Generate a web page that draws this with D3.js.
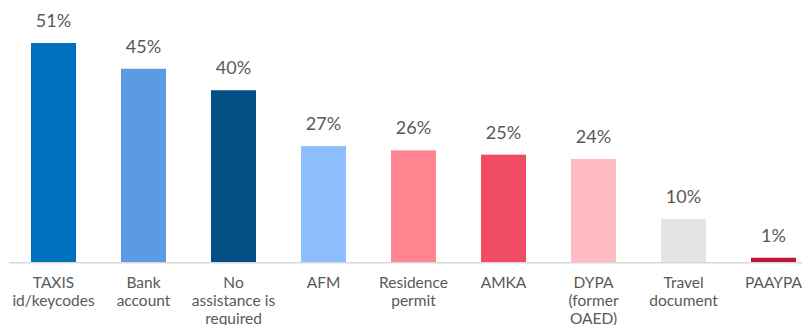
<!DOCTYPE html>
<html>
<head>
<meta charset="utf-8">
<script src="https://cdn.jsdelivr.net/npm/d3@7"></script>
<style>
  body { margin: 0; background: #fff; }
  svg { display: block; font-family: Lato, "Open Sans", sans-serif; }
</style>
</head>
<body>
<svg id="chart" width="802" height="325"></svg>
<script>
var categories = ['TAXIS id/keycodes', 'Bank account', 'No assistance is required', 'AFM',
  'Residence permit', 'AMKA', 'DYPA (former OAED)', 'Travel document', 'PAAYPA'];
var labelLines = [['TAXIS', 'id/keycodes'], ['Bank', 'account'], ['No', 'assistance is', 'required'], ['AFM'],
  ['Residence', 'permit'], ['AMKA'], ['DYPA', '(former', 'OAED)'], ['Travel', 'document'], ['PAAYPA']];
var values = [51, 45, 40, 27, 26, 25, 24, 10, 1];
var colors = ['#0070bf', '#5a9be2', '#044e86', '#8fbeff', '#ff8591', '#f04c63', '#ffbcc2', '#e5e5e5', '#c0163a'];

var svg = d3.select('#chart');

// band runs past the right edge, the last column is clipped like in the original
var x = d3.scaleBand().domain(categories).range([8.5, 818.5]).paddingInner(0.5).paddingOuter(0.25);
var y = d3.scaleLinear().domain([0, 51]).range([262, 43]);

svg.selectAll('rect.bar')
  .data(values)
  .enter().append('rect')
  .attr('class', 'bar')
  .attr('x', function(d, i) { return x(categories[i]); })
  .attr('width', x.bandwidth())
  .attr('y', function(d) { return y(d); })
  .attr('height', function(d) { return y(0) - y(d); })
  .attr('fill', function(d, i) { return colors[i]; });

// baseline
svg.append('line')
  .attr('x1', 9).attr('x2', 802)
  .attr('y1', y(0) + 0.75).attr('y2', y(0) + 0.75)
  .attr('stroke', '#d9d9d9').attr('stroke-width', 1.5);

// value labels
svg.selectAll('text.val')
  .data(values)
  .enter().append('text')
  .attr('class', 'val')
  .attr('x', function(d, i) { return x(categories[i]) + x.bandwidth() / 2; })
  .attr('y', function(d) { return y(d) - 16; })
  .attr('text-anchor', 'middle')
  .attr('font-size', 18)
  .attr('fill', '#595959')
  .text(function(d) { return d + '%'; });

// category labels
var cat = svg.selectAll('text.cat')
  .data(categories)
  .enter().append('text')
  .attr('class', 'cat')
  .attr('text-anchor', 'middle')
  .attr('font-size', 15.5)
  .attr('fill', '#595959')
  .attr('transform', function(d) { return 'translate(' + (x(d) + x.bandwidth() / 2) + ',288)'; });

cat.selectAll('tspan')
  .data(function(d, i) { return labelLines[i]; })
  .enter().append('tspan')
  .attr('x', 0)
  .attr('y', function(d, j) { return j * 18; })
  .text(function(d) { return d; });
</script>
</body>
</html>
